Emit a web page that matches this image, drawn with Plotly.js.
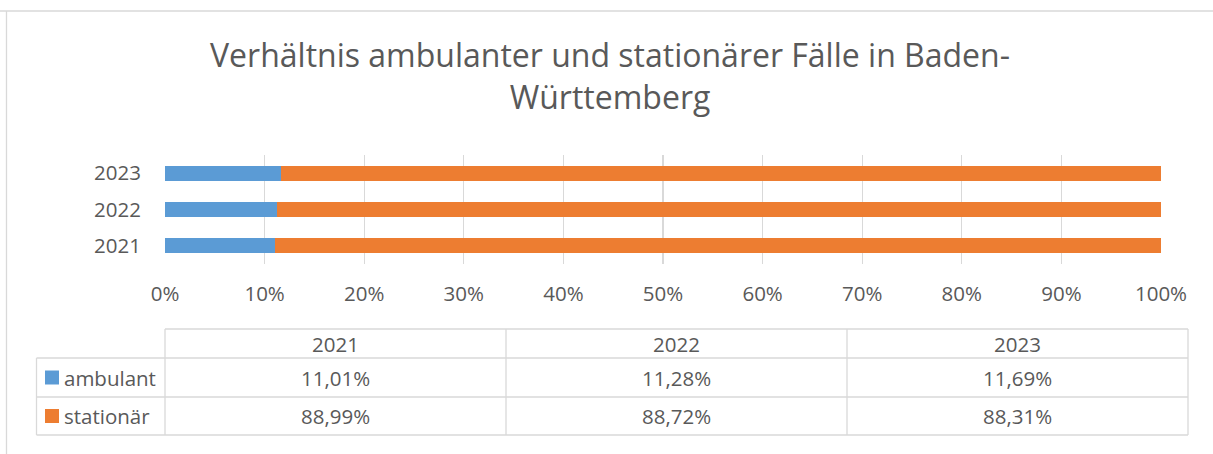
<!DOCTYPE html>
<html><head><meta charset="utf-8">
<script src="https://cdn.plot.ly/plotly-3.0.1.min.js"></script>
<style>html,body{margin:0;padding:0;background:#fff;}#c{width:1213px;height:454px;}</style>
</head><body><div id="c"></div>
<script>
const years = ['2021', '2022', '2023'];
const ambulant = [11.01, 11.28, 11.69];
const stationaer = [88.99, 88.72, 88.31];
const seriesNames = ['ambulant', 'stationär'];
const seriesColors = ['#5B9BD5', '#ED7D31'];
const xTickVals = [0,10,20,30,40,50,60,70,80,90,100];

const W = 1213, Hh = 454;
const PL = 165, PR = 1161, PT = 155, PB = 264;
const xp = px => (px - PL) / (PR - PL);
const yp = py => (PB - py) / (PB - PT);
const fmt = v => v.toFixed(2).replace('.', ',') + '%';
const FONT = 'Open Sans';
const GREY = '#595959';
const LINE = '#D9D9D9';
const TS = 20.5;

const traces = [
  {type:'bar', orientation:'h', y: years, x: ambulant, name: seriesNames[0], marker:{color: seriesColors[0]}, hoverinfo:'none'},
  {type:'bar', orientation:'h', y: years, x: stationaer, name: seriesNames[1], marker:{color: seriesColors[1]}, hoverinfo:'none'}
];

const shapes = [];
const annotations = [];
function hline(x0, x1, y) { shapes.push({type:'line', xref:'paper', yref:'paper', x0: xp(x0), x1: xp(x1), y0: yp(y), y1: yp(y), line:{color: LINE, width: 1.3}}); }
function vline(x, y0, y1) { shapes.push({type:'line', xref:'paper', yref:'paper', x0: xp(x), x1: xp(x), y0: yp(y0), y1: yp(y1), line:{color: LINE, width: 1.3}}); }

// outer chart frame
shapes.push({type:'line', xref:'paper', yref:'paper', x0: xp(0), x1: xp(W), y0: yp(11), y1: yp(11), line:{color: LINE, width: 1.3}});
shapes.push({type:'line', xref:'paper', yref:'paper', x0: xp(6.5), x1: xp(6.5), y0: yp(11), y1: yp(Hh), line:{color: LINE, width: 1.3}});

// data table
const colX = [165, 506, 847, 1188];
const rowY = [329, 358, 397, 435];
hline(colX[0], colX[3], rowY[0]);
for (let i = 1; i < rowY.length; i++) hline(36.5, colX[3], rowY[i]);
colX.forEach(x => vline(x, rowY[0], rowY[3]));
vline(36.5, rowY[1], rowY[3]);

const rows = [ambulant, stationaer];
years.forEach((yr, j) => {
  const cx = (colX[j] + colX[j + 1]) / 2;
  annotations.push({xref:'paper', yref:'paper', x: xp(cx), y: yp((rowY[0] + rowY[1]) / 2), text: yr, showarrow:false, font:{family: FONT, size: TS, color: GREY}, xanchor:'center', yanchor:'middle'});
  rows.forEach((vals, r) => {
    annotations.push({xref:'paper', yref:'paper', x: xp(cx), y: yp((rowY[r + 1] + rowY[r + 2]) / 2), text: fmt(vals[j]), showarrow:false, font:{family: FONT, size: TS, color: GREY}, xanchor:'center', yanchor:'middle'});
  });
});
seriesNames.forEach((nm, r) => {
  const cy = (rowY[r + 1] + rowY[r + 2]) / 2;
  shapes.push({type:'rect', xref:'paper', yref:'paper', x0: xp(45), x1: xp(59), y0: yp(cy - 7), y1: yp(cy + 7), fillcolor: seriesColors[r], line:{width:0}});
  annotations.push({xref:'paper', yref:'paper', x: xp(62), y: yp(cy), text: nm, showarrow:false, font:{family: FONT, size: TS, color: GREY}, xanchor:'left', yanchor:'middle'});
});

const layout = {
  width: W, height: Hh,
  margin: {l: PL, r: W - PR, t: PT, b: Hh - PB, pad: 0},
  paper_bgcolor: '#fff', plot_bgcolor: '#fff',
  barmode: 'stack', bargap: 0.59,
  showlegend: false,
  title: {text: 'Verhältnis ambulanter und stationärer Fälle in Baden-<br>Württemberg', x: 610 / W, xanchor: 'center', y: 1 - 67 / Hh, yanchor: 'top', yref: 'container', font: {family: FONT, size: 32, color: GREY}},
  xaxis: {range: [0, 100], tickvals: xTickVals, ticktext: xTickVals.map(v => v + '%'), showgrid: true, gridcolor: LINE, gridwidth: 1.3, zeroline: false, showline: false, ticks: '', tickfont: {family: FONT, size: TS, color: GREY}, ticklabelstandoff: 15, fixedrange: true},
  yaxis: {type: 'category', categoryorder: 'array', categoryarray: years, showgrid: false, zeroline: false, showline: false, ticks: '', tickfont: {family: FONT, size: TS, color: GREY}, ticklabelstandoff: 23, fixedrange: true},
  shapes: shapes,
  annotations: annotations,
  font: {family: FONT, color: GREY}
};
Plotly.newPlot('c', traces, layout, {displayModeBar: false, staticPlot: true});
</script></body></html>
